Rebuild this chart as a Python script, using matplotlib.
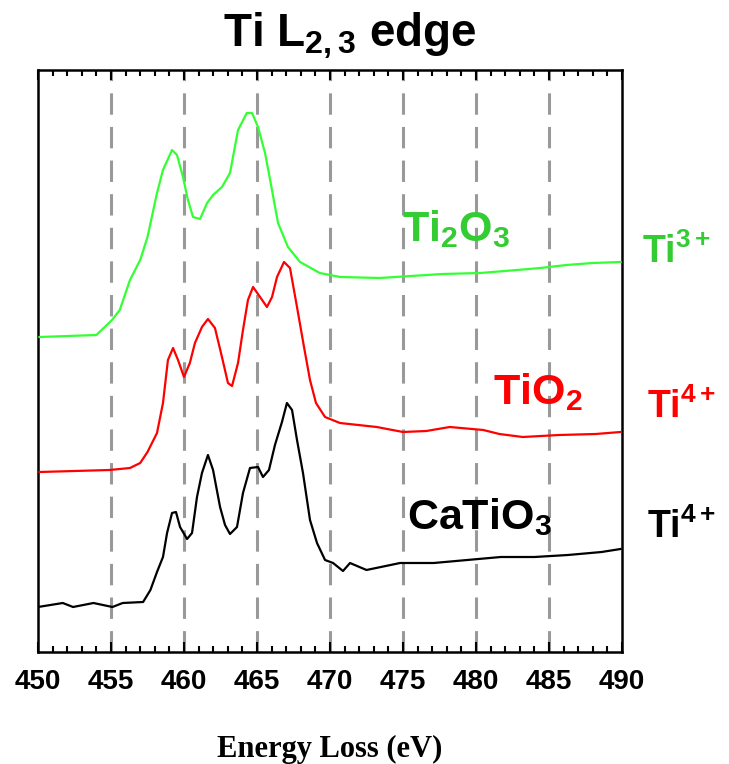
"""
Ti L2,3 edge EELS spectra
"""
import matplotlib.pyplot as plt
from matplotlib.ticker import MultipleLocator

plt.rcParams['font.family'] = ['Liberation Sans', 'DejaVu Sans']
plt.rcParams['font.weight'] = 'bold'
plt.rcParams['mathtext.fontset'] = 'custom'
plt.rcParams['mathtext.rm'] = 'Liberation Sans:bold'
plt.rcParams['mathtext.it'] = 'Liberation Sans:bold'
plt.rcParams['mathtext.bf'] = 'Liberation Sans:bold'

# energy loss (eV) and intensity (arb. units, offset per spectrum)
ti2o3_e = [450.1, 454.0, 455.07, 455.6, 456.3, 457.0, 457.5, 458.15, 458.56, 459.18,
           459.52, 459.93, 460.27, 460.62, 461.1, 461.58, 461.99, 462.6, 463.15, 463.7,
           464.3, 464.66, 465.07, 465.55, 465.9, 466.44, 467.12, 467.95, 469.3, 470.7,
           473.4, 477.7, 480.3, 482.8, 484.4, 486.2, 488.0, 489.9]
ti2o3_i = [315, 317, 332, 342, 372, 392, 415, 459, 482, 502,
           497, 475, 452, 435, 433, 449, 457, 465, 479, 522,
           539, 539, 525, 499, 472, 429, 405, 390, 379, 375,
           374, 378, 379, 382, 384, 387, 389, 390]

tio2_e = [450.1, 454.9, 456.3, 457.0, 457.5, 458.15, 458.56, 458.9, 459.25, 459.59,
          460.0, 460.4, 460.75, 461.23, 461.64, 462.12, 462.6, 463.01, 463.29, 463.7,
          464.04, 464.38, 464.73, 465.21, 465.68, 466.03, 466.37, 466.85, 467.26, 467.74,
          468.22, 468.63, 469.04, 469.66, 470.68, 473.2, 475.0, 476.6, 478.2, 480.5,
          481.6, 483.2, 485.7, 488.2, 489.9]
tio2_i = [180, 182, 184, 189, 200, 219, 249, 292, 304, 292,
          275, 289, 309, 325, 333, 324, 295, 269, 266, 289,
          322, 352, 365, 355, 345, 355, 375, 390, 384, 345,
          305, 272, 249, 235, 229, 225, 220, 221, 225, 222,
          218, 215, 217, 218, 220]

catio3_e = [450.0, 451.7, 452.4, 453.8, 455.1, 455.8, 457.2, 457.7, 458.15, 458.56,
            458.84, 459.18, 459.45, 459.73, 460.21, 460.55, 460.89, 461.23, 461.64, 461.99,
            462.47, 462.81, 463.15, 463.63, 464.04, 464.52, 465.07, 465.41, 465.82, 466.23,
            466.71, 467.05, 467.4, 467.74, 468.15, 468.63, 469.11, 469.66, 470.21, 470.89,
            471.37, 472.5, 474.8, 477.1, 479.4, 481.7, 484.0, 486.3, 488.6, 489.9]
catio3_i = [45, 49, 45, 49, 45, 49, 50, 62, 80, 95,
            119, 139, 140, 125, 113, 119, 155, 179, 197, 182,
            145, 127, 118, 125, 159, 184, 185, 175, 182, 207,
            230, 249, 242, 212, 179, 132, 109, 92, 89, 81,
            89, 82, 89, 89, 92, 95, 95, 97, 100, 103]

series = [
    (ti2o3_e, ti2o3_i, '#33ff33'),
    (tio2_e, tio2_i, '#ff0000'),
    (catio3_e, catio3_i, '#000000'),
]

fig = plt.figure(figsize=(7.29, 7.64), dpi=100)
ax = fig.add_axes([38 / 729, 112 / 764, 584 / 729, 582 / 764])

for x in [455, 460, 465, 470, 475, 480, 485]:
    ax.axvline(x, color='#999999', linewidth=2.2, dashes=(7, 4), zorder=1)

for e, inten, c in series:
    ax.plot(e, inten, color=c, linewidth=1.6, zorder=3)

ax.set_xlim(450, 490)
ax.set_ylim(0, 582)
ax.xaxis.set_major_locator(MultipleLocator(5))
ax.xaxis.set_minor_locator(MultipleLocator(1))
ax.set_yticks([])
ax.tick_params(axis='x', which='both', direction='in', top=True, bottom=True, width=1.5)
ax.tick_params(axis='x', which='major', length=7, pad=12, labelsize=20)
ax.tick_params(axis='x', which='minor', length=4)
for s in ax.spines.values():
    s.set_linewidth(1.8)

ax.set_xlabel('Energy Loss (eV)', fontsize=22, fontweight='bold',
              family=['Liberation Serif', 'DejaVu Serif'], labelpad=29)

# labels inside the plot
ax.text(478.6, 423, 'Ti$_2$O$_3$', color='#33cc33', fontsize=31, ha='center', va='center')
ax.text(484.2, 260, 'TiO$_2$', color='#ff0000', fontsize=31, ha='center', va='center')
ax.text(480.2, 135, 'CaTiO$_3$', color='#000000', fontsize=31, ha='center', va='center')

# oxidation states outside the plot
fig.text(677 / 729, 1 - 252 / 764, 'Ti$^{3+}$', color='#33cc33', fontsize=27, ha='center', va='center')
fig.text(682 / 729, 1 - 407 / 764, 'Ti$^{4+}$', color='#ff0000', fontsize=27, ha='center', va='center')
fig.text(682 / 729, 1 - 527 / 764, 'Ti$^{4+}$', color='#000000', fontsize=27, ha='center', va='center')

fig.text(350 / 729, 1 - 36 / 764, 'Ti L$_{2,3}$ edge', fontsize=33, fontweight='bold',
         ha='center', va='center')

fig.savefig('out.png', dpi=100)
